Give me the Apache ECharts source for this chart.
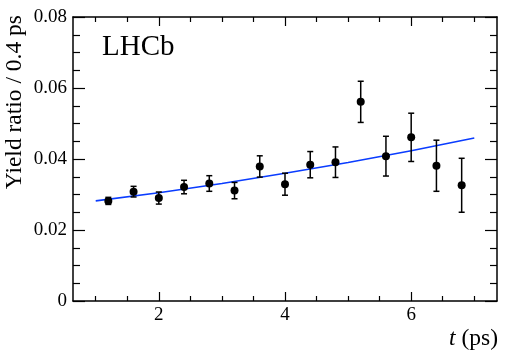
<!DOCTYPE html>
<html>
<head>
<meta charset="utf-8">
<script src="https://cdn.jsdelivr.net/npm/echarts@6/dist/echarts.min.js"></script>
<style>
  html, body { margin: 0; padding: 0; background: #fff; }
  #chart { width: 523px; height: 359px; }
</style>
</head>
<body>
<div id="chart"></div>
<script>
// measured points: decay time bin centre, yield ratio, uncertainty
var times  = [1.2, 1.6, 2.0, 2.4, 2.8, 3.2, 3.6, 4.0, 4.4, 4.8, 5.2, 5.6, 6.0, 6.4, 6.8];
var ratios = [0.0282, 0.0308, 0.0290, 0.0321, 0.0331, 0.0311, 0.0379, 0.0329,
              0.0384, 0.0391, 0.0561, 0.0408, 0.0461, 0.0381, 0.0326];
var errors = [0.0010, 0.0015, 0.0017, 0.0019, 0.0022, 0.0023, 0.0030, 0.0031,
              0.0037, 0.0043, 0.0058, 0.0056, 0.0068, 0.0072, 0.0076];

// fit curve
var fitT = [1.0, 2.0, 3.0, 4.0, 5.0, 6.0, 7.0];
var fitY = [0.0282, 0.0305, 0.0331, 0.0360, 0.0390, 0.0423, 0.0459];

// tick positions on the time axis
var majorTicks = [2, 4, 6];
var minorTicks = [1, 1.5, 2.5, 3, 3.5, 4.5, 5, 5.5, 6.5, 7];

var serif = '"Liberation Serif", "DejaVu Serif", serif';
var tMin = 0.64, tMax = 7.36;

var points = times.map(function(t, i) { return [t, ratios[i]]; });
var bars = times.map(function(t, i) { return [t, ratios[i] - errors[i], ratios[i] + errors[i]]; });
var fit = fitT.map(function(t, i) { return [t, fitY[i]]; });

function xAx(pos, ticks, len, withLine, withLabels) {
    return {
        type: 'value', position: pos, min: tMin, max: tMax,
        axisLine: { show: withLine, lineStyle: { color: '#000', width: 1.5 } },
        axisTick: { show: true, inside: true, length: len, customValues: ticks,
                    lineStyle: { color: '#000', width: 1.2 } },
        axisLabel: withLabels ? {
            show: true, customValues: majorTicks, margin: 5,
            color: '#000', fontFamily: serif, fontSize: 19
        } : { show: false },
        splitLine: { show: false }
    };
}

function yAx(pos, withLabels) {
    return {
        type: 'value', position: pos, min: 0, max: 0.08, interval: 0.02,
        axisLine: { show: true, lineStyle: { color: '#000', width: 1.5 } },
        axisTick: { show: true, inside: true, length: 12, lineStyle: { color: '#000', width: 1.2 } },
        minorTick: { show: true, splitNumber: 4, length: 7, lineStyle: { color: '#000', width: 1.2 } },
        axisLabel: withLabels ? {
            show: true, margin: 6, color: '#000', fontFamily: serif, fontSize: 19,
            padding: [4, 0, 0, 0],
            formatter: function(v) { return v === 0 ? '0' : v.toFixed(2); }
        } : { show: false },
        splitLine: { show: false }
    };
}

var chart = echarts.init(document.getElementById('chart'), null, { renderer: 'canvas' });

chart.setOption({
    animation: false,
    backgroundColor: '#fff',
    grid: { left: 73, right: 26, top: 17, bottom: 58, containLabel: false },
    xAxis: [
        xAx('bottom', majorTicks, 9, true, true),
        xAx('bottom', minorTicks, 5, false, false),
        xAx('top', majorTicks, 9, true, false),
        xAx('top', minorTicks, 5, false, false)
    ],
    yAxis: [yAx('left', true), yAx('right', false)],
    graphic: [
        { type: 'text', left: 102, top: 33,
          style: { text: 'LHCb', fontFamily: serif, fontSize: 29, fill: '#000' } },
        { type: 'text', x: 14.5, y: 15, rotation: Math.PI / 2,
          style: { text: 'Yield ratio / 0.4 ps', fontFamily: serif, fontSize: 23.5, fill: '#000',
                   align: 'right', verticalAlign: 'middle' } },
        { type: 'text', x: 498, y: 339,
          style: { text: '{i|t} (ps)', fontFamily: serif, fontSize: 23.5, fill: '#000',
                   align: 'right', verticalAlign: 'middle',
                   rich: { i: { fontFamily: serif, fontStyle: 'italic', fontSize: 23.5, fill: '#000' } } } }
    ],
    series: [
        {
            type: 'line', data: fit, showSymbol: false, symbol: 'none',
            lineStyle: { color: '#0a3cff', width: 1.6 }, z: 2, silent: true
        },
        {
            type: 'custom', data: bars, z: 3,
            renderItem: function(params, api) {
                var t = api.value(0);
                var lo = api.coord([t, api.value(1)]);
                var hi = api.coord([t, api.value(2)]);
                var w = 3;
                var st = { stroke: '#000', lineWidth: 1.5 };
                return { type: 'group', children: [
                    { type: 'line', shape: { x1: lo[0], y1: lo[1], x2: hi[0], y2: hi[1] }, style: st },
                    { type: 'line', shape: { x1: lo[0] - w, y1: lo[1], x2: lo[0] + w, y2: lo[1] }, style: st },
                    { type: 'line', shape: { x1: hi[0] - w, y1: hi[1], x2: hi[0] + w, y2: hi[1] }, style: st }
                ] };
            }
        },
        {
            type: 'scatter', data: points, symbol: 'circle', symbolSize: 8, z: 4,
            itemStyle: { color: '#000', opacity: 1 }
        }
    ]
});
</script>
</body>
</html>
